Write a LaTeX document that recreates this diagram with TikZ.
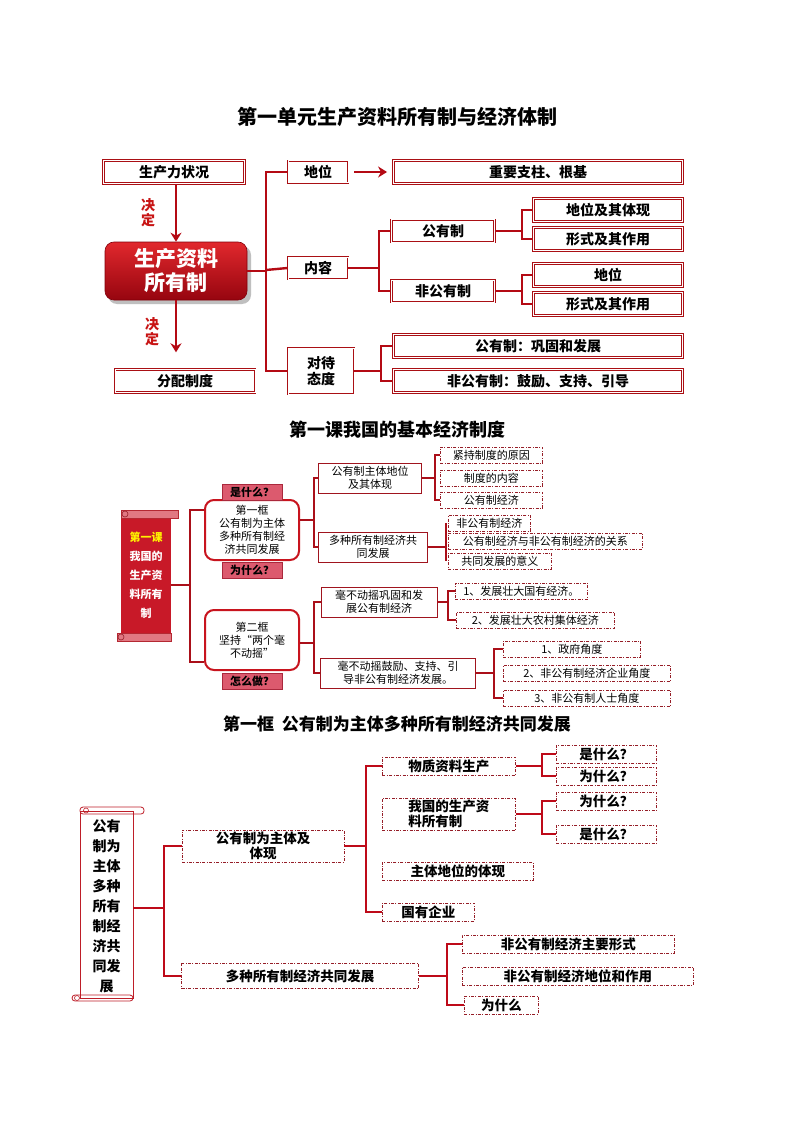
\documentclass[tikz,border=0pt]{standalone}
\usepackage{fontspec}
\setmainfont{Noto Sans CJK SC}
\usetikzlibrary{arrows.meta,calc}
\definecolor{SF}{RGB}{200,25,40}
\definecolor{SL}{RGB}{180,40,50}
\definecolor{SLF}{RGB}{225,120,130}
\definecolor{SC}{RGB}{150,30,40}
\definecolor{SR}{RGB}{190,30,40}
\begin{document}
\begin{tikzpicture}[x=1pt,y=-1pt,
  every node/.style={inner sep=0pt, align=center},
  b1/.style={draw={rgb,255:red,170;green,15;blue,20}, line width=0.9pt, double=white, double distance=1pt, fill=white, font=\bfseries\fontsize{14}{16}\selectfont},
  c1/.style={draw={rgb,255:red,180;green,10;blue,20}, line width=2.4pt},
  ar1/.style={c1, -{Stealth[length=9pt,width=11pt]}},
  sb/.style={draw={rgb,255:red,160;green,20;blue,30}, line width=0.8pt, fill=white, font=\fontsize{11}{13}\selectfont},
  rb/.style={draw={rgb,255:red,200;green,20;blue,30}, line width=2pt, rounded corners=9pt, fill=white, font=\fontsize{11}{13}\selectfont, minimum width=94pt, minimum height=60pt},
  pk/.style={fill={rgb,255:red,220;green,90;blue,110}, draw={rgb,255:red,170;green,40;blue,60}, line width=0.4pt, font=\bfseries\fontsize{11}{13}\selectfont, minimum width=60pt, minimum height=16pt},
  db/.style={draw={rgb,255:red,150;green,30;blue,40}, line width=0.6pt, dash pattern=on 3pt off 1.5pt on 0.8pt off 1.5pt, fill=white, font=\fontsize{11}{13}\selectfont, anchor=west, minimum height=16pt, inner xsep=3pt},
  db3/.style={db, font=\bfseries\fontsize{13.5}{15}\selectfont, minimum height=18pt},
  c2/.style={draw={rgb,255:red,170;green,15;blue,25}, line width=2pt},
  c3/.style={draw={rgb,255:red,190;green,10;blue,25}, line width=2.2pt}]
\useasboundingbox (0,0) rectangle (794,1123);
\fill[white] (0,0) rectangle (794,1123);

% ===== Section 1 =====
\node[font=\bfseries\fontsize{20}{22}\selectfont] (t1) at (397,117) {第一单元生产资料所有制与经济体制};

\node[b1, minimum width=141pt, minimum height=23pt] (scl) at (174,172) {生产力状况};
\fill[gray!50, rounded corners=9pt] (108,246) rectangle (251,304);
\node[rounded corners=9pt, top color={rgb,255:red,225;green,40;blue,45}, bottom color={rgb,255:red,150;green,5;blue,15}, draw={rgb,255:red,130;green,0;blue,10}, line width=0.6pt, minimum width=142pt, minimum height=58pt, text=white, font=\bfseries\fontsize{21}{24}\selectfont] (main) at (176,271) {生产资料\\所有制};
\node[b1, minimum width=140pt, minimum height=23pt] (fp) at (185,381) {分配制度};
\draw[ar1] (scl.south -| main) -- (main.north);
\draw[ar1] (main.south) -- ++(0,52) coordinate (fpa);
\node[text={rgb,255:red,200;green,20;blue,20}, font=\bfseries\fontsize{14}{15}\selectfont] (jd1) at (148,213) {决\\定};
\node[text={rgb,255:red,200;green,20;blue,20}, font=\bfseries\fontsize{14}{15}\selectfont] (jd2) at (152,332) {决\\定};

\node[b1, minimum width=60pt, minimum height=22pt] (dw) at (318,172) {地位};
\node[b1, minimum width=60pt, minimum height=22pt] (nr) at (318,268) {内容};
\node[b1, minimum width=66pt, minimum height=46pt] (td) at (321,371) {对待\\态度};
\node[b1, minimum width=289pt, minimum height=23pt] (zy) at (538,172) {重要支柱、根基};
\draw[ar1] ($(dw.east)+(6,0)$) -- ($(zy.west)+(-6,0)$);
\coordinate (tk1) at (266,270);
\draw[c1] (main.east) -- (main.east -| tk1);
\draw[c1] (dw.west) -| (tk1) |- (td.west);
\draw[c1] (tk1) -- (nr.west);

\node[b1, minimum width=103pt, minimum height=22pt] (gy) at (443,231) {公有制};
\node[b1, minimum width=103pt, minimum height=22pt] (fg) at (443,291) {非公有制};
\coordinate (tk2) at (379,268);
\draw[c1] (nr.east) -- (tk2);
\draw[c1] (gy.west) -| (tk2) |- (fg.west);
\node[b1, minimum width=149pt, minimum height=23pt] (g1) at (608,210) {地位及其体现};
\node[b1, minimum width=149pt, minimum height=23pt] (g2) at (608,239) {形式及其作用};
\node[b1, minimum width=149pt, minimum height=23pt] (f1) at (608,275) {地位};
\node[b1, minimum width=149pt, minimum height=23pt] (f2) at (608,304) {形式及其作用};
\coordinate (tk3) at (522,231);
\coordinate (tk4) at (522,291);
\draw[c1] (gy.east) -- (tk3);
\draw[c1] (g1.west) -| (tk3) |- (g2.west);
\draw[c1] (fg.east) -- (tk4);
\draw[c1] (f1.west) -| (tk4) |- (f2.west);
\node[b1, minimum width=289pt, minimum height=23pt] (a1) at (538,346) {公有制：巩固和发展};
\node[b1, minimum width=289pt, minimum height=23pt] (a2) at (538,381) {非公有制：鼓励、支持、引导};
\coordinate (tk5) at (381,371);
\draw[c1] (td.east) -- (tk5);
\draw[c1] (a1.west) -| (tk5) |- (a2.west);

% ===== Section 2 =====
\node[font=\bfseries\fontsize{18}{20}\selectfont] (t2) at (397,430) {第一课我国的基本经济制度};
\fill[fill=SF] (121,514) rectangle (171,637);
\draw[draw=SL, line width=0.8pt, fill=SLF] (121,510) rectangle (178,518);
\draw[draw=SL, line width=0.8pt, fill=SLF] (117,633) rectangle (171,641);
\draw[draw=SC, line width=0.6pt] (125,514) circle (3pt) (121,637) circle (3pt);
\node[font=\bfseries\fontsize{11}{19}\selectfont, text=white] (sc2) at (146,575) {\textcolor{yellow}{第一课}\\我国的\\生产资\\料所有\\制};
\coordinate (tk6) at (190,585);
\draw[c2] (171,585) coordinate (sc2e) -- (tk6);

\node[rb] (k1) at (252,530) {第一框\\公有制为主体\\多种所有制经\\济共同发展};
\node[rb] (k2) at (252,640) {第二框\\坚持“两个毫\\不动摇”};
\node[pk] (p1) at (252,492) {是什么？};
\node[pk] (p2) at (252,570) {为什么？};
\node[pk] (p3) at (252,681) {怎么做？};
\draw[c2] (k1.west |- 0,510) -| (tk6) |- (k2.west |- 0,662);

\node[sb, minimum width=103pt, minimum height=30pt] (m1) at (370,478) {公有制主体地位\\及其体现};
\node[sb, minimum width=109pt, minimum height=30pt] (m2) at (373,547) {多种所有制经济共\\同发展};
\coordinate (tk7) at (314,520);
\draw[c2] (k1.east |- tk7) -- (tk7);
\draw[c2] (m1.west) -| (tk7) |- (m2.west);

\node[db, minimum width=102pt] (n1) at (440,455) {紧持制度的原因};
\node[db, minimum width=102pt] (n2) at (440,478) {制度的内容};
\node[db, minimum width=102pt] (n3) at (440,500) {公有制经济};
\coordinate (tk8) at (435,478);
\draw[c2] (m1.east) -- (tk8);
\draw[c2] (n1.west) -| (tk8) |- (n3.west);
\node[db, minimum width=82pt] (n4) at (448,523) {非公有制经济};
\node[db, minimum width=194pt] (n5) at (448,541) {公有制经济与非公有制经济的关系};
\node[db, minimum width=103pt] (n6) at (448,561) {共同发展的意义};
\coordinate (tk9) at (446,547);
\draw[c2] (m2.east) -- (tk9);
\draw[c2] (tk9 |- n4.west) -- (tk9 |- n6.west);

\node[sb, minimum width=116pt, minimum height=30pt] (m3) at (379,602) {毫不动摇巩固和发\\展公有制经济};
\node[sb, minimum width=155pt, minimum height=30pt] (m4) at (398,673) {毫不动摇鼓励、支持、引\\导非公有制经济发展。};
\coordinate (tk10) at (314,643);
\draw[c2] (k2.east |- tk10) -- (tk10);
\draw[c2] (m3.west) -| (tk10) |- (m4.west);
\node[db, minimum width=132pt] (q1) at (455,591) {1、发展壮大国有经济。};
\node[db, minimum width=158pt] (q2) at (456,620) {2、发展壮大农村集体经济};
\coordinate (tk11) at (448,605);
\draw[c2] (m3.east) -- (m3.east -| tk11);
\draw[c2] (q1.west) -| (tk11) |- (q2.west);
\node[db, minimum width=137pt] (r1) at (503,649) {1、政府角度};
\node[db, minimum width=167pt] (r2) at (503,673) {2、非公有制经济企业角度};
\node[db, minimum width=167pt] (r3) at (503,698) {3、非公有制人士角度};
\coordinate (tk12) at (494,673);
\draw[c2] (m4.east) -- (tk12);
\draw[c2] (r1.west) -| (tk12) |- (r3.west);

% ===== Section 3 =====
\node[font=\bfseries\fontsize{17}{19}\selectfont] (t3) at (397,724) {第一框\ \ 公有制为主体多种所有制经济共同发展};
\draw[draw=SR, line width=1pt, fill=white] (80,811) rectangle (133,998);
\draw[draw=SR, line width=0.8pt, rounded corners=3pt] (80,807) rectangle (144,814);
\draw[draw=SR, line width=0.8pt, rounded corners=3pt] (72,995) rectangle (133,1001);
\draw[draw=SR, line width=0.6pt] (86,810.5) circle (2.5pt) (77,998) circle (2.5pt);
\node[font=\bfseries\fontsize{14}{20}\selectfont] (sc3) at (106.5,906) {公有\\制为\\主体\\多种\\所有\\制经\\济共\\同发\\展};
\coordinate (tk13) at (164,908);
\draw[c3] (133,908) coordinate (sc3e) -- (tk13);

\node[db3, anchor=center, minimum width=162pt, minimum height=32pt] (u1) at (263,846) {公有制为主体及\\体现};
\node[db3, anchor=center, minimum width=237pt, minimum height=25pt] (u2) at (300,976) {多种所有制经济共同发展};
\draw[c3] (u1.west) -| (tk13) |- (u2.west);

\node[db3, minimum width=133pt] (v1) at (382,766) {物质资料生产};
\node[db3, minimum width=133pt, minimum height=32pt, align=left] (v2) at (382,814) {我国的生产资\\料所有制};
\node[db3, minimum width=151pt] (v3) at (382,871) {主体地位的体现};
\node[db3, minimum width=92pt] (v4) at (382,912) {国有企业};
\coordinate (tk14) at (366,846);
\draw[c3] (u1.east) -- (tk14);
\draw[c3] (v1.west) -| (tk14) |- (v4.west);

\node[db3, minimum width=100pt] (w1) at (556,754) {是什么？};
\node[db3, minimum width=100pt] (w2) at (556,776) {为什么？};
\node[db3, minimum width=100pt] (w3) at (556,801) {为什么？};
\node[db3, minimum width=100pt] (w4) at (556,834) {是什么？};
\coordinate (tk15) at (542,766);
\coordinate (tk16) at (542,814);
\draw[c3] (v1.east) -- (tk15);
\draw[c3] (w1.west) -| (tk15) |- (w2.west);
\draw[c3] (v2.east) -- (tk16);
\draw[c3] (w3.west) -| (tk16) |- (w4.west);

\node[db3, minimum width=212pt] (x1) at (462,944) {非公有制经济主要形式};
\node[db3, minimum width=231pt] (x2) at (462,976) {非公有制经济地位和作用};
\node[db3, minimum width=74pt] (x3) at (464,1005) {为什么};
\coordinate (tk17) at (447,976);
\draw[c3] (u2.east) -- (tk17);
\draw[c3] (x1.west) -| (tk17) |- (x3.west);
\end{tikzpicture}
\end{document}
